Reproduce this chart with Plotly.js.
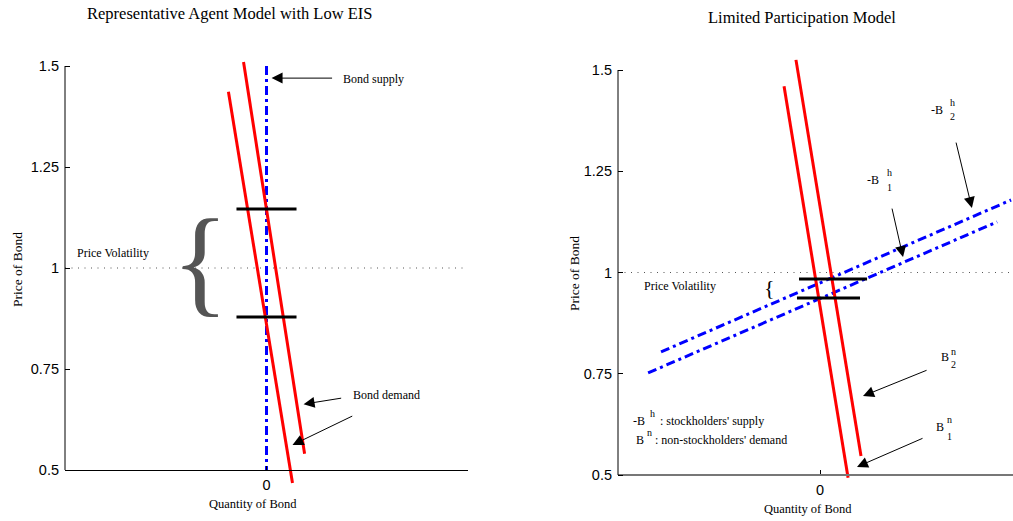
<!DOCTYPE html>
<html><head><meta charset="utf-8">
<script src="https://cdn.plot.ly/plotly-3.0.1.min.js"></script>
<style>html,body{margin:0;padding:0;background:#fff;} #chart{width:1013px;height:521px;}</style>
</head><body><div id="chart"></div>
<script>
// ---------- data: left panel (representative agent, low EIS) ----------
const leftSupplyX = [0, 0];
const leftSupplyY = [1.5, 0.5];
const leftDemand1X = [-0.189, 0.129];
const leftDemand1Y = [1.436, 0.468];
const leftDemand2X = [-0.114, 0.189];
const leftDemand2Y = [1.510, 0.540];
const leftPriceHighX = [-0.149, 0.149];
const leftPriceHighY = [1.146, 1.146];
const leftPriceLowX = [-0.149, 0.149];
const leftPriceLowY = [0.879, 0.879];
const leftRefX = [-1, 0.99];
const leftRefY = [1, 1];

// ---------- data: right panel (limited participation) ----------
const rightDemand1X = [-0.178, 0.139];
const rightDemand1Y = [1.460, 0.493];
const rightDemand2X = [-0.119, 0.203];
const rightDemand2Y = [1.525, 0.547];
const rightSupply1X = [-0.851, 0.877];
const rightSupply1Y = [0.752, 1.125];
const rightSupply2X = [-0.787, 0.946];
const rightSupply2Y = [0.804, 1.179];
const rightPriceHighX = [-0.104, 0.233];
const rightPriceHighY = [0.984, 0.984];
const rightPriceLowX = [-0.114, 0.198];
const rightPriceLowY = [0.937, 0.937];
const rightRefX = [-1, 0.955];
const rightRefY = [1, 1];

// ---------- ticks ----------
const yTickVals = [0.5, 0.75, 1, 1.25, 1.5];
const yTickText = ['0.5', '0.75', '1', '1.25', '1.5'];
const xTickVals = [0];
const xTickText = ['0'];

// ---------- layout helpers ----------
const W = 1013, H = 521;
const fx = px => px / W;
const fy = py => 1 - py / H;
const SERIF = 'Liberation Serif, Times New Roman, serif';
const SANS = 'Liberation Sans, Arial, sans-serif';
const RED = '#ff0000', BLUE = '#0000ff';
const BLUE_DASH = '9px,4px,3px,4px';

function seg(x, y, xa, ya, color, width, dash, name) {
  return {type: 'scatter', mode: 'lines', x: x, y: y, xaxis: xa, yaxis: ya, name: name,
    line: {color: color, width: width, dash: dash || 'solid'}, hoverinfo: 'skip', showlegend: false};
}

const traces = [
  seg(leftRefX, leftRefY, 'x', 'y', '#555', 1, '1px,5.5px', 'ref'),
  seg(leftSupplyX, leftSupplyY, 'x', 'y', BLUE, 3, BLUE_DASH, 'Bond supply'),
  seg(leftDemand1X, leftDemand1Y, 'x', 'y', RED, 3, null, 'Bond demand 1'),
  seg(leftDemand2X, leftDemand2Y, 'x', 'y', RED, 3, null, 'Bond demand 2'),
  seg(leftPriceHighX, leftPriceHighY, 'x', 'y', '#000', 3, null, 'high price'),
  seg(leftPriceLowX, leftPriceLowY, 'x', 'y', '#000', 3, null, 'low price'),

  seg(rightRefX, rightRefY, 'x2', 'y2', '#555', 1, '1px,5.5px', 'ref'),
  seg(rightSupply1X, rightSupply1Y, 'x2', 'y2', BLUE, 3, BLUE_DASH, '-Bh1'),
  seg(rightSupply2X, rightSupply2Y, 'x2', 'y2', BLUE, 3, BLUE_DASH, '-Bh2'),
  seg(rightDemand1X, rightDemand1Y, 'x2', 'y2', RED, 3, null, 'Bn1'),
  seg(rightDemand2X, rightDemand2Y, 'x2', 'y2', RED, 3, null, 'Bn2'),
  seg(rightPriceHighX, rightPriceHighY, 'x2', 'y2', '#000', 3, null, 'high price'),
  seg(rightPriceLowX, rightPriceLowY, 'x2', 'y2', '#000', 3, null, 'low price')
];

function txt(xr, yr, x, y, text, size, opts) {
  return Object.assign({xref: xr, yref: yr, x: x, y: y, text: text, showarrow: false,
    font: {family: SERIF, size: size || 12, color: '#000'}, xanchor: 'center', yanchor: 'middle'}, opts || {});
}
function arrow(xr, yr, tail, head) {
  return {xref: xr, yref: yr, axref: xr, ayref: yr, x: head[0], y: head[1], ax: tail[0], ay: tail[1],
    text: '', font: {size: 1}, borderpad: 0, showarrow: true, arrowhead: 2, arrowsize: 2.2,
    arrowwidth: 1, arrowcolor: '#000', standoff: 0, startstandoff: 0};
}

const annotations = [
  // titles
  txt('paper', 'paper', fx(230), fy(14), 'Representative Agent Model with Low EIS', 16.5),
  txt('paper', 'paper', fx(802), fy(18), 'Limited Participation Model', 16.5),
  // axis titles
  txt('paper', 'paper', fx(253), fy(504), 'Quantity of Bond', 12.5),
  txt('paper', 'paper', fx(808), fy(509), 'Quantity of Bond', 12.5),
  txt('paper', 'paper', fx(17), fy(270), 'Price of Bond', 13.5, {textangle: -90}),
  txt('paper', 'paper', fx(574), fy(274), 'Price of Bond', 13.5, {textangle: -90}),
  // left panel labels
  txt('x', 'y', 0.532, 1.468, 'Bond supply', 12),
  txt('x', 'y', 0.597, 0.686, 'Bond demand', 12),
  txt('x', 'y', -0.761, 1.037, 'Price Volatility', 12),
  txt('x', 'y', -0.33, 1.017, '{', 118, {font: {family: SERIF, size: 118, color: '#555'}}),
  arrow('x', 'y', [0.328, 1.470], [0.025, 1.470]),
  arrow('x', 'y', [0.373, 0.678], [0.184, 0.663]),
  arrow('x', 'y', [0.428, 0.634], [0.129, 0.562]),
  // right panel labels
  txt('x2', 'y2', -0.693, 0.967, 'Price Volatility', 12),
  txt('x2', 'y2', -0.25, 0.962, '{', 22),
  txt('x2', 'y2', 0.579, 1.401, '-B', 12),
  txt('x2', 'y2', 0.658, 1.421, 'h', 10),
  txt('x2', 'y2', 0.658, 1.384, '2', 10),
  txt('x2', 'y2', 0.262, 1.228, '-B', 12),
  txt('x2', 'y2', 0.342, 1.246, 'h', 10),
  txt('x2', 'y2', 0.342, 1.211, '1', 10),
  arrow('x2', 'y2', [0.673, 1.322], [0.752, 1.159]),
  arrow('x2', 'y2', [0.356, 1.159], [0.411, 1.038]),
  txt('x2', 'y2', 0.619, 0.791, 'B', 12),
  txt('x2', 'y2', 0.663, 0.806, 'n', 10),
  txt('x2', 'y2', 0.663, 0.772, '2', 10),
  arrow('x2', 'y2', [0.530, 0.759], [0.213, 0.695]),
  txt('x2', 'y2', 0.594, 0.619, 'B', 12),
  txt('x2', 'y2', 0.639, 0.638, 'n', 10),
  txt('x2', 'y2', 0.639, 0.594, '1', 10),
  arrow('x2', 'y2', [0.510, 0.591], [0.183, 0.520]),
  // right panel key
  txt('x2', 'y2', -0.896, 0.633, '-B', 12),
  txt('x2', 'y2', -0.827, 0.653, 'h', 10),
  txt('x2', 'y2', -0.802, 0.633, ": stockholders' supply", 12, {xanchor: 'left'}),
  txt('x2', 'y2', -0.891, 0.586, 'B', 12),
  txt('x2', 'y2', -0.842, 0.606, 'n', 10),
  txt('x2', 'y2', -0.827, 0.586, ": non-stockholders' demand", 12, {xanchor: 'left'})
];

const tickFont = {family: SANS, size: 14.5, color: '#000'};
const baseX = {showgrid: false, zeroline: false, showline: true, linecolor: '#000', linewidth: 1,
  tickvals: xTickVals, ticktext: xTickText, ticks: 'inside', ticklen: 4, tickcolor: '#000',
  tickfont: tickFont, anchor: 'free', fixedrange: true, ticklabelstandoff: 2};
const baseY = {showgrid: false, zeroline: false, showline: false, range: [0.45, 1.55],
  tickvals: yTickVals, ticktext: yTickText, ticks: 'inside', ticklen: 5, tickcolor: '#000',
  tickfont: tickFont, fixedrange: true, ticklabelstandoff: 5};

const layout = {
  width: W, height: H, margin: {l: 0, r: 0, t: 0, b: 0},
  paper_bgcolor: '#fff', plot_bgcolor: 'rgba(0,0,0,0)', showlegend: false,
  xaxis: Object.assign({}, baseX, {domain: [fx(65), fx(468)], range: [-1, 1], position: fy(470)}),
  yaxis: Object.assign({}, baseY, {domain: [fy(490.2), fy(45.8)], anchor: 'x'}),
  xaxis2: Object.assign({}, baseX, {domain: [fx(618), 1], range: [-1, 0.9554], position: fy(475),
    linecolor: '#777', linewidth: 2}),
  yaxis2: Object.assign({}, baseY, {domain: [fy(495.25), fy(49.75)], anchor: 'x2'}),
  shapes: [
    {type: 'line', xref: 'paper', yref: 'y', x0: fx(65), x1: fx(65), y0: 0.5, y1: 1.5,
      line: {color: '#000', width: 1}},
    {type: 'line', xref: 'paper', yref: 'y2', x0: fx(618), x1: fx(618), y0: 0.5, y1: 1.5,
      line: {color: '#000', width: 1}}
  ],
  annotations: annotations
};

Plotly.newPlot('chart', traces, layout, {staticPlot: true, displayModeBar: false});
</script>
</body></html>
